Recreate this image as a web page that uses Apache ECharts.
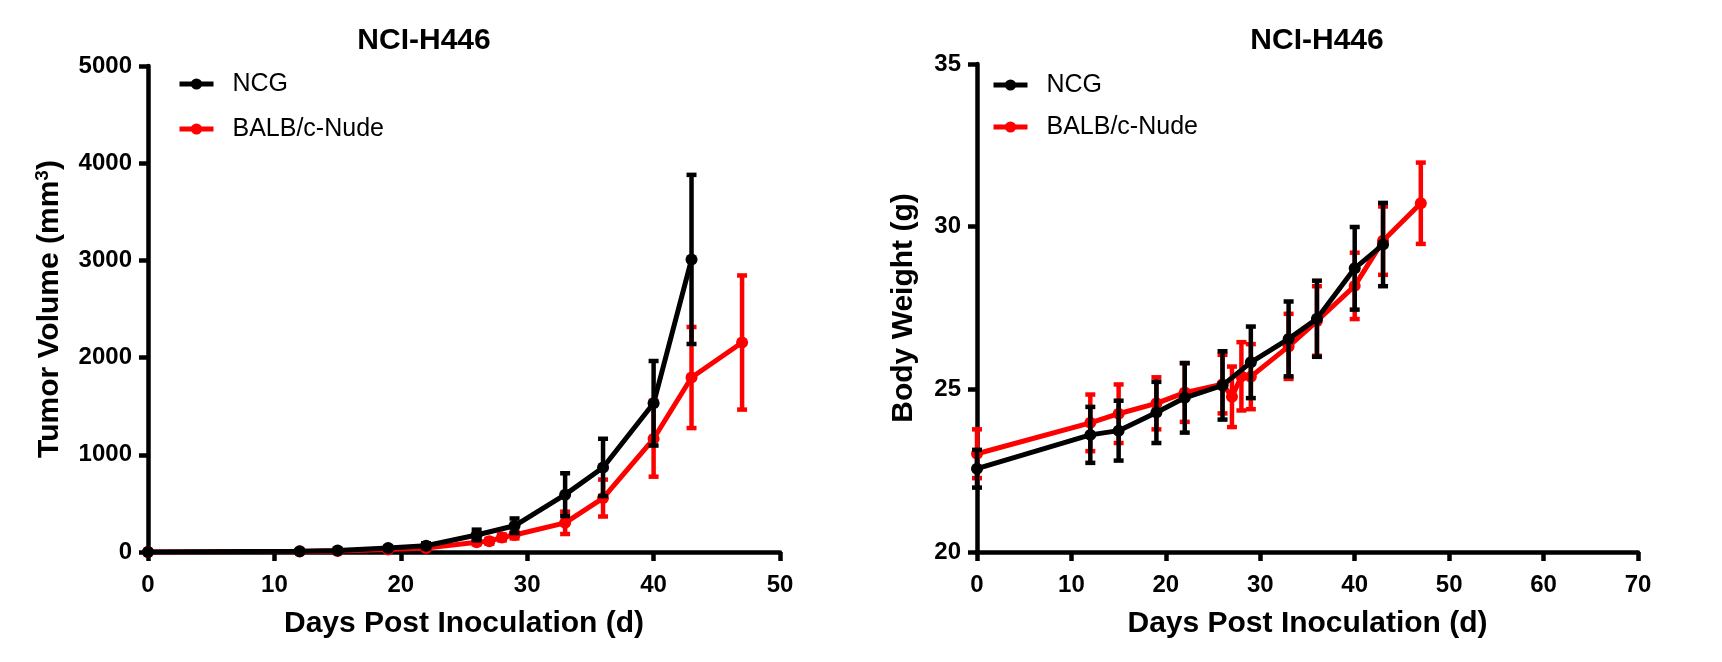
<!DOCTYPE html>
<html><head><meta charset="utf-8">
<script src="https://cdn.jsdelivr.net/npm/echarts@6/dist/echarts.min.js"></script>
<style>html,body{margin:0;padding:0;background:#fff}#c{width:1722px;height:662px}</style>
</head><body><div id="c"></div>
<script>
// ---- Tumor volume (left) ----
const tvNcgDays  = [0, 12, 15, 19, 22, 26, 29, 33, 36, 40, 43];
const tvNcgMean  = [0, 8, 15, 40, 65, 175, 270, 590, 870, 1530, 3010];
const tvNcgSem   = [0, 5, 8, 15, 25, 55, 75, 220, 295, 435, 870];
const tvNudeDays = [0, 12, 15, 19, 22, 26, 27, 28, 29, 33, 36, 40, 43, 47];
const tvNudeMean = [0, 5, 10, 25, 40, 100, 110, 150, 175, 300, 555, 1165, 1795, 2155];
const tvNudeSem  = [0, 3, 5, 10, 15, 20, 25, 30, 35, 115, 190, 390, 520, 690];
// ---- Body weight (right) ----
const bwNcgDays  = [0, 12, 15, 19, 22, 26, 29, 33, 36, 40, 43];
const bwNcgMean  = [22.56, 23.6, 23.73, 24.29, 24.74, 25.12, 25.83, 26.55, 27.17, 28.72, 29.45];
const bwNcgSem   = [0.58, 0.86, 0.92, 0.94, 1.07, 1.05, 1.1, 1.15, 1.17, 1.27, 1.28];
const bwNudeDays = [0, 12, 15, 19, 22, 26, 27, 28, 29, 33, 36, 40, 43, 47];
const bwNudeMean = [23.02, 23.97, 24.25, 24.57, 24.9, 25.16, 24.77, 25.4, 25.39, 26.32, 27.1, 28.18, 29.57, 30.72];
const bwNudeSem  = [0.75, 0.87, 0.9, 0.8, 0.9, 0.9, 0.93, 1.05, 1.0, 1.0, 1.07, 1.02, 1.05, 1.25];
// ---- Text ----
const chartTitle = 'NCI-H446';
const seriesNames = ['NCG', 'BALB/c-Nude'];
const xTitle = 'Days Post Inoculation (d)';
const yTitleLeft = 'Tumor Volume (mm{sup|3})';
const yTitleRight = 'Body Weight (g)';

const FONT = '"Liberation Sans", Arial, Helvetica, sans-serif';
const BLACK = '#000000', RED = '#ff0000';

const zip2 = (a, b) => a.map((v, i) => [v, b[i]]);
const zip3 = (a, b, c) => a.map((v, i) => [v, b[i], c[i]]);

function errRender(color) {
  return function (params, api) {
    const x = api.value(0), y = api.value(1), e = api.value(2);
    if (!e) return null;
    const t = api.coord([x, y + e]), b = api.coord([x, y - e]);
    const w = 5;
    const style = { stroke: color, lineWidth: 4.5, fill: null };
    return { type: 'group', children: [
      { type: 'line', shape: { x1: t[0], y1: t[1], x2: b[0], y2: b[1] }, style },
      { type: 'line', shape: { x1: t[0] - w, y1: t[1], x2: t[0] + w, y2: t[1] }, style },
      { type: 'line', shape: { x1: b[0] - w, y1: b[1], x2: b[0] + w, y2: b[1] }, style }
    ]};
  };
}

function axisCommon(margin) {
  return {
    axisLine: { show: true, onZero: false, lineStyle: { color: BLACK, width: 4.5 } },
    axisTick: { show: true, length: 9, lineStyle: { color: BLACK, width: 4.5 } },
    axisLabel: { color: BLACK, fontFamily: FONT, fontWeight: 'bold', fontSize: 24, margin,
      formatter: v => String(v) },
    splitLine: { show: false },
    nameTextStyle: { color: BLACK, fontFamily: FONT, fontWeight: 'bold', fontSize: 30 }
  };
}

function lineSeries(name, idx, data, color, z) {
  return { type: 'line', name, xAxisIndex: idx, yAxisIndex: idx, data,
    symbol: 'circle', symbolSize: 12, showSymbol: true, z,
    itemStyle: { color, borderWidth: 0 }, lineStyle: { color, width: 5 },
    emphasis: { disabled: true }, animation: false };
}
function errSeries(name, idx, data, color, z) {
  return { type: 'custom', name, xAxisIndex: idx, yAxisIndex: idx, data,
    encode: { x: 0, y: 1 }, renderItem: errRender(color), z, animation: false, silent: true };
}

const legendCommon = {
  orient: 'vertical', itemWidth: 34, itemHeight: 14, padding: 0,
  data: seriesNames, selectedMode: false,
  lineStyle: { width: 5 },
  textStyle: { color: BLACK, fontFamily: FONT, fontSize: 25, lineHeight: 30, padding: [0, 0, 0, 14] }
};

const option = {
  backgroundColor: '#ffffff',
  animation: false,
  textStyle: { fontFamily: FONT },
  title: [
    { text: chartTitle, left: 424, top: 26, textAlign: 'center', padding: 0,
      textStyle: { fontFamily: FONT, fontWeight: 'bold', fontSize: 30, color: BLACK } },
    { text: chartTitle, left: 1317, top: 26, textAlign: 'center', padding: 0,
      textStyle: { fontFamily: FONT, fontWeight: 'bold', fontSize: 30, color: BLACK } }
  ],
  legend: [
    Object.assign({ left: 177, top: 69, itemGap: 15 }, legendCommon),
    Object.assign({ left: 991, top: 70, itemGap: 12 }, legendCommon)
  ],
  grid: [
    { left: 148, right: 942, top: 66, bottom: 110 },
    { left: 977, right: 84, top: 64, bottom: 110 }
  ],
  xAxis: [
    Object.assign(axisCommon(21), { type: 'value', gridIndex: 0, min: 0, max: 50, interval: 10,
      name: xTitle, nameLocation: 'middle', nameGap: 57 }),
    Object.assign(axisCommon(21), { type: 'value', gridIndex: 1, min: 0, max: 70, interval: 10,
      name: xTitle, nameLocation: 'middle', nameGap: 57 })
  ],
  yAxis: [
    Object.assign(axisCommon(16), { type: 'value', gridIndex: 0, min: 0, max: 5000, interval: 1000,
      name: yTitleLeft, nameLocation: 'middle', nameGap: 81,
      nameTextStyle: { color: BLACK, fontFamily: FONT, fontWeight: 'bold', fontSize: 30, lineHeight: 34,
        rich: { sup: { fontFamily: FONT, fontWeight: 'bold', fontSize: 19, lineHeight: 16, verticalAlign: 'top', color: BLACK } } } }),
    Object.assign(axisCommon(16), { type: 'value', gridIndex: 1, min: 20, max: 35, interval: 5,
      name: yTitleRight, nameLocation: 'middle', nameGap: 58 })
  ],
  series: [
    errSeries('BALB err L', 0, zip3(tvNudeDays, tvNudeMean, tvNudeSem), RED, 2),
    lineSeries(seriesNames[1], 0, zip2(tvNudeDays, tvNudeMean), RED, 3),
    errSeries('NCG err L', 0, zip3(tvNcgDays, tvNcgMean, tvNcgSem), BLACK, 4),
    lineSeries(seriesNames[0], 0, zip2(tvNcgDays, tvNcgMean), BLACK, 5),
    errSeries('BALB err R', 1, zip3(bwNudeDays, bwNudeMean, bwNudeSem), RED, 2),
    lineSeries(seriesNames[1], 1, zip2(bwNudeDays, bwNudeMean), RED, 3),
    errSeries('NCG err R', 1, zip3(bwNcgDays, bwNcgMean, bwNcgSem), BLACK, 4),
    lineSeries(seriesNames[0], 1, zip2(bwNcgDays, bwNcgMean), BLACK, 5)
  ]
};
const chart = echarts.init(document.getElementById('c'), null, { renderer: 'canvas' });
chart.setOption(option);
</script>
</body></html>
